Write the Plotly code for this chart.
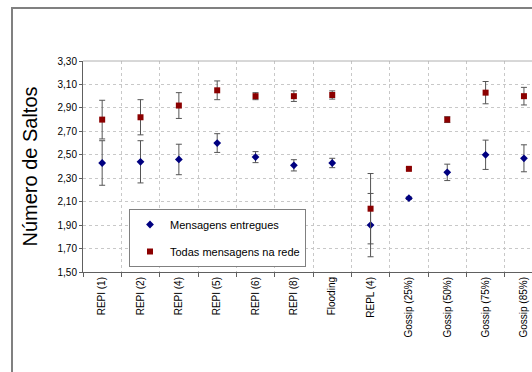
import plotly.graph_objects as go

categorias = ["REPI (1)", "REPI (2)", "REPI (4)", "REPI (5)", "REPI (6)", "REPI (8)",
              "Flooding", "REPL (4)", "Gossip (25%)", "Gossip (50%)", "Gossip (75%)", "Gossip (85%)"]
entregues = [2.43, 2.44, 2.46, 2.60, 2.48, 2.41, 2.43, 1.90, 2.13, 2.35, 2.50, 2.47]
entregues_err = [0.19, 0.18, 0.13, 0.08, 0.047, 0.048, 0.04, 0.27, 0.01, 0.07, 0.125, 0.115]
todas = [2.80, 2.82, 2.92, 3.05, 3.00, 3.00, 3.01, 2.04, 2.38, 2.80, 3.03, 3.00]
todas_err = [0.165, 0.15, 0.11, 0.08, 0.03, 0.045, 0.035, 0.30, 0.01, 0.025, 0.095, 0.075]
y_ticks = [1.50, 1.70, 1.90, 2.10, 2.30, 2.50, 2.70, 2.90, 3.10, 3.30]

W, H = 532, 372
L, R, T, B = 83, 0, 61, 100
pw, ph = W - L - R, H - T - B

def px_x(x):
    return (x - L) / pw

def px_y(y):
    return (H - B - y) / ph

fig = go.Figure()
fig.add_trace(go.Scatter(
    x=categorias, y=entregues, mode="markers", name="Mensagens entregues",
    legendgroup="a",
    marker=dict(symbol="diamond", size=6, color="#000080"),
    error_y=dict(type="data", array=entregues_err, color="#555555", thickness=1, width=3),
))
fig.add_trace(go.Scatter(
    x=categorias, y=todas, mode="markers", name="Todas mensagens na rede",
    legendgroup="b",
    marker=dict(symbol="square", size=6, color="#8b0000"),
    error_y=dict(type="data", array=todas_err, color="#555555", thickness=1, width=3),
))

fig.update_layout(
    width=W, height=H,
    margin=dict(l=L, r=R, t=T, b=B, autoexpand=False),
    paper_bgcolor="white", plot_bgcolor="white",
    separators=",.",
    font=dict(family="Liberation Sans, Arial, sans-serif", size=10, color="#000000"),
    showlegend=True,
    legend=dict(
        x=px_x(129), y=px_y(209), xanchor="left", yanchor="top",
        bgcolor="white", bordercolor="#808080", borderwidth=1,
        font=dict(size=11, color="#000000"),
        traceorder="grouped", tracegroupgap=8,
    ),
    xaxis=dict(
        type="category", range=[-0.5, 11.21], tickson="boundaries",
        showgrid=True, gridcolor="#c8c8c8", griddash="dot", gridwidth=1,
        showline=True, linecolor="#606060", linewidth=1,
        ticks="outside", ticklen=4, tickcolor="#606060",
        tickangle=-90, tickfont=dict(size=10),
        zeroline=False, automargin=False,
    ),
    yaxis=dict(
        range=[1.50, 3.30], tickvals=y_ticks, tickformat=".2f",
        showgrid=True, gridcolor="#c8c8c8", griddash="dot", gridwidth=1,
        showline=True, linecolor="#606060", linewidth=1,
        ticks="outside", ticklen=3, tickcolor="#606060",
        tickfont=dict(size=10),
        zeroline=False, automargin=False,
        title=dict(text="Número de Saltos", font=dict(size=20, color="#000000"), standoff=14),
    ),
    shapes=[
        dict(type="line", xref="paper", yref="paper", x0=0, x1=1, y0=1, y1=1,
             line=dict(color="#b0b0b0", width=1)),
        dict(type="line", xref="paper", yref="paper", x0=px_x(12), x1=px_x(12),
             y0=px_y(8), y1=px_y(372), line=dict(color="#808080", width=2)),
        dict(type="line", xref="paper", yref="paper", x0=px_x(11), x1=1.0,
             y0=px_y(8), y1=px_y(8), line=dict(color="#808080", width=2)),
    ],
)

fig.write_html(
    "out.html",
    config={"displayModeBar": False},
    post_script="document.body.style.margin='0';document.body.style.overflow='hidden';",
)
